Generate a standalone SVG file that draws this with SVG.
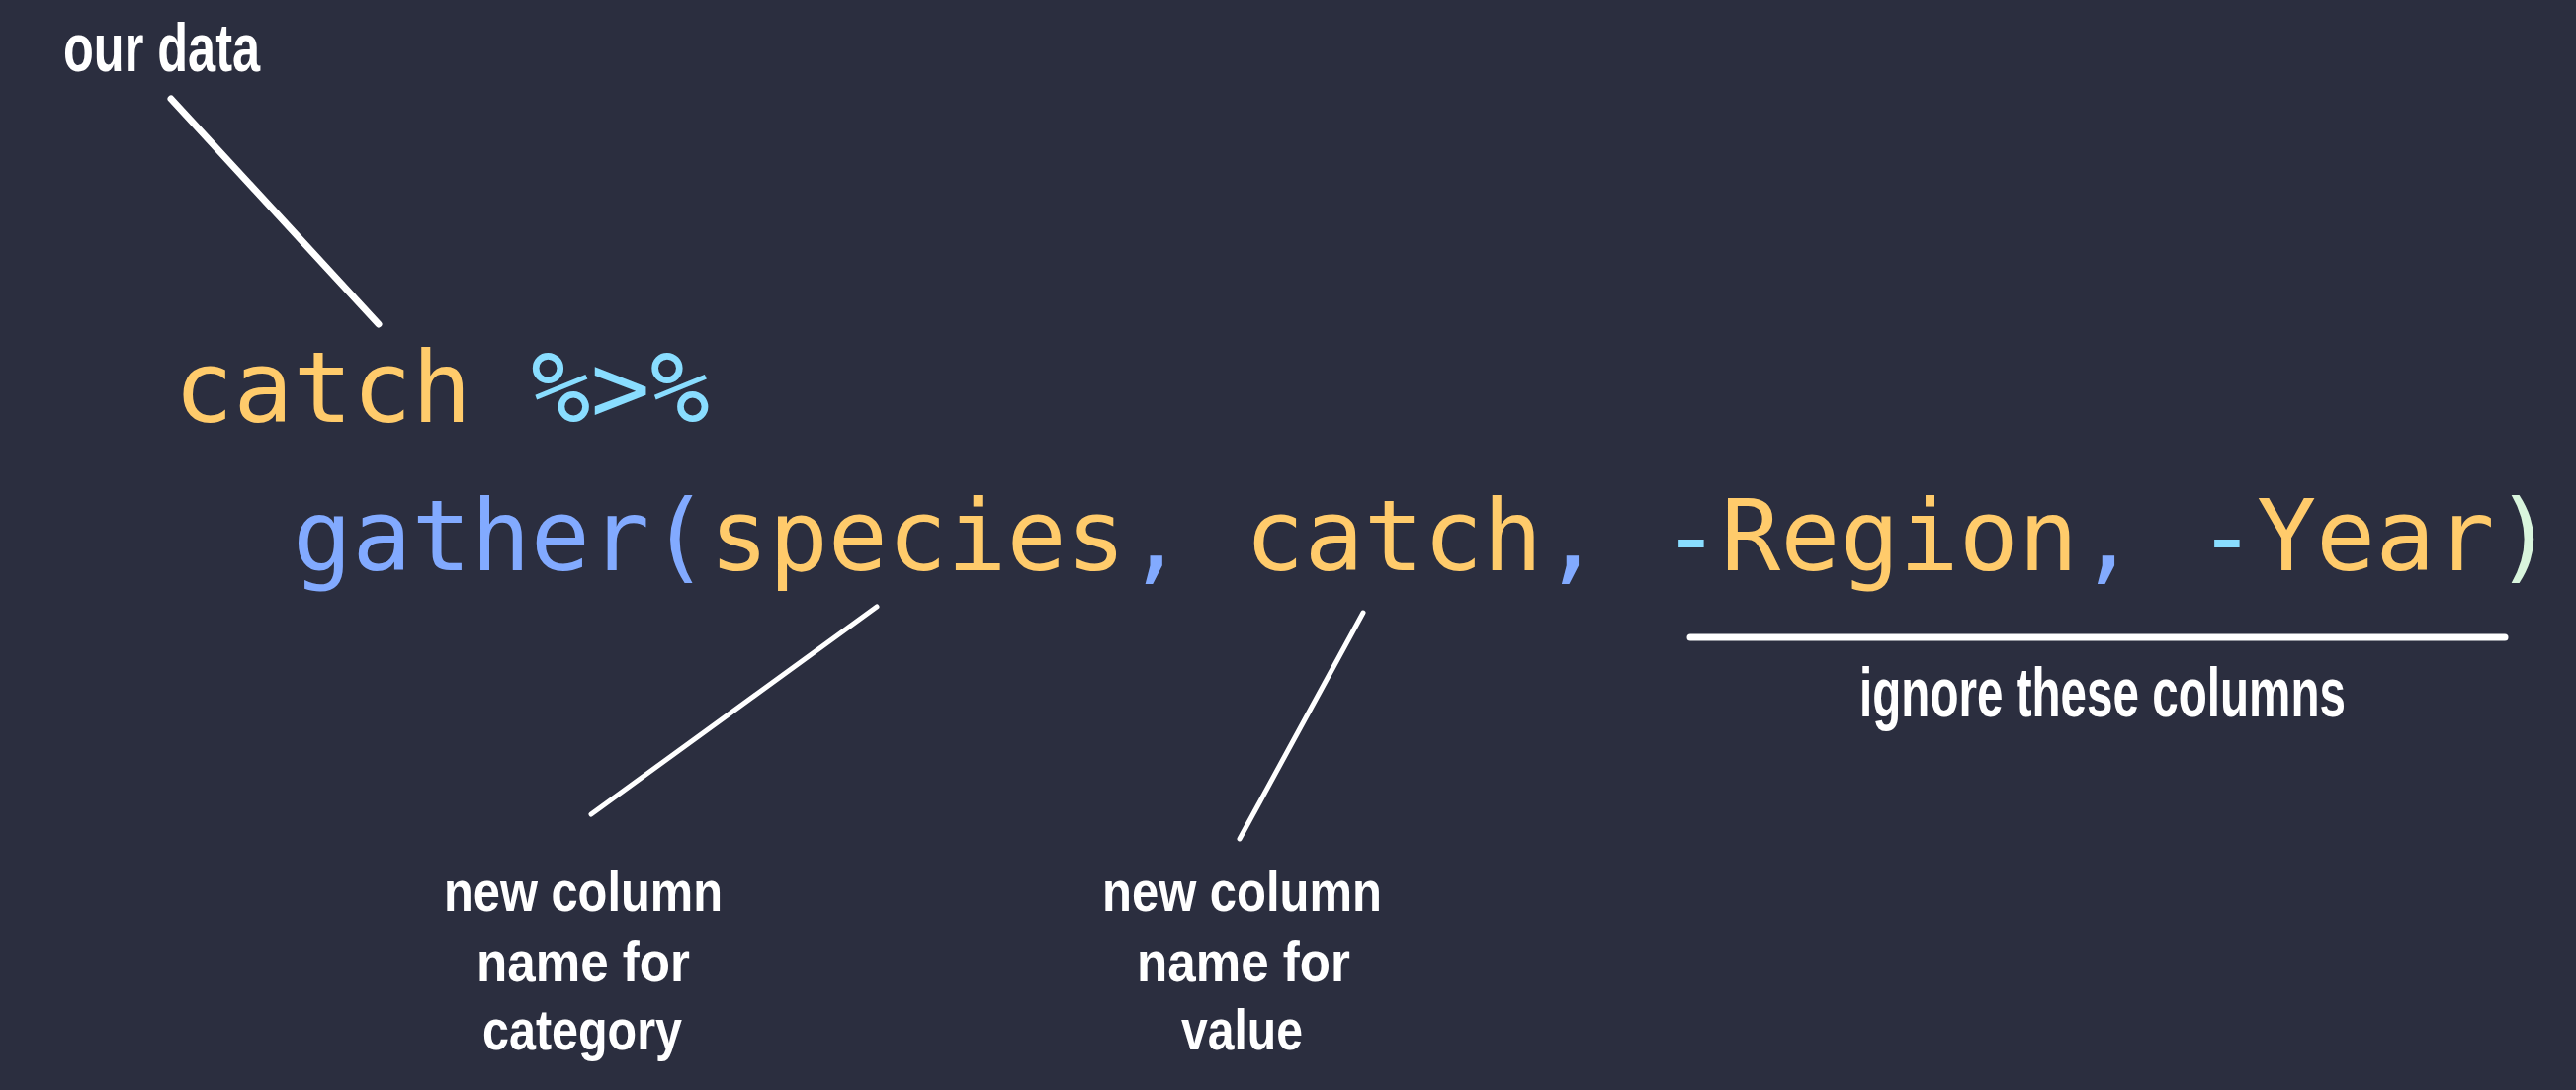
<svg xmlns="http://www.w3.org/2000/svg" width="2606" height="1103" viewBox="0 0 2606 1103">
<style>
.code{font-family:"DejaVu Sans Mono","Liberation Mono",monospace;font-size:100px;white-space:pre}
.y{fill:#ffcb6b}.b{fill:#82aaff}.c{fill:#89ddff}.p{fill:#d9f5dd}
.note{font-family:"Liberation Sans Narrow","Liberation Sans",sans-serif;font-weight:bold;fill:#ffffff}
.lead{stroke:#ffffff;stroke-linecap:round;fill:none}
</style>
<rect width="2606" height="1103" fill="#2b2e3f"/>
<g id="code-line1"><text class="code" x="176" y="427"><tspan class="y">catch</tspan> <tspan class="c">%&gt;%</tspan></text></g>
<g id="code-line2"><text class="code" x="296" y="577"><tspan class="b">gather(</tspan><tspan class="y">species</tspan><tspan class="b">,</tspan> <tspan class="y">catch</tspan><tspan class="b">,</tspan> <tspan class="c">-</tspan><tspan class="y">Region</tspan><tspan class="b">,</tspan> <tspan class="c">-</tspan><tspan class="y">Year</tspan><tspan class="p">)</tspan></text></g>
<g id="note-our-data"><text class="note" x="64" y="72" font-size="68" textLength="199" lengthAdjust="spacingAndGlyphs">our data</text></g>
<g id="note-ignore"><text class="note" x="1881" y="725" font-size="70" textLength="492" lengthAdjust="spacingAndGlyphs">ignore these columns</text></g>
<g id="note-category">
<text class="note" x="449" y="922" font-size="58" textLength="282" lengthAdjust="spacingAndGlyphs">new column</text>
<text class="note" x="482" y="993" font-size="58" textLength="216" lengthAdjust="spacingAndGlyphs">name for</text>
<text class="note" x="488" y="1062" font-size="58" textLength="202" lengthAdjust="spacingAndGlyphs">category</text>
</g>
<g id="note-value">
<text class="note" x="1115" y="922" font-size="58" textLength="283" lengthAdjust="spacingAndGlyphs">new column</text>
<text class="note" x="1150" y="993" font-size="58" textLength="216" lengthAdjust="spacingAndGlyphs">name for</text>
<text class="note" x="1195" y="1062" font-size="58" textLength="123" lengthAdjust="spacingAndGlyphs">value</text>
</g>
<g id="connectors">
<line class="lead" x1="173" y1="100" x2="383" y2="328" stroke-width="7"/>
<line class="lead" x1="887" y1="614" x2="598" y2="824" stroke-width="5"/>
<line class="lead" x1="1379" y1="620" x2="1254" y2="849" stroke-width="5"/>
<line class="lead" x1="1710" y1="645" x2="2534" y2="645" stroke-width="7"/>
</g>
</svg>
